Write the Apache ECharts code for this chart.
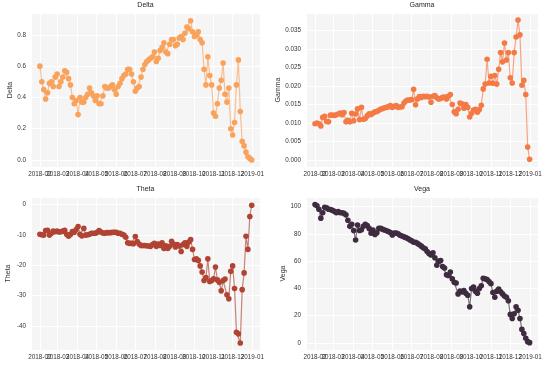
<!DOCTYPE html>
<html><head><meta charset="utf-8">
<script src="https://cdn.jsdelivr.net/npm/echarts@6/dist/echarts.min.js"></script>
<style>html,body{margin:0;padding:0;background:#fff}#c{width:550px;height:366px}</style>
</head><body><div id="c"></div><script>
const dates = [
'2018-02-01','2018-02-04','2018-02-07','2018-02-10','2018-02-13','2018-02-16','2018-02-19','2018-02-22','2018-02-25','2018-02-28',
'2018-03-03','2018-03-06','2018-03-09','2018-03-12','2018-03-15','2018-03-18','2018-03-21','2018-03-24','2018-03-27','2018-03-30',
'2018-04-02','2018-04-05','2018-04-08','2018-04-11','2018-04-14','2018-04-17','2018-04-20','2018-04-23','2018-04-26','2018-04-29',
'2018-05-02','2018-05-05','2018-05-08','2018-05-11','2018-05-14','2018-05-17','2018-05-20','2018-05-23','2018-05-26','2018-05-29',
'2018-06-01','2018-06-04','2018-06-07','2018-06-10','2018-06-13','2018-06-16','2018-06-19','2018-06-22','2018-06-25','2018-06-28',
'2018-07-01','2018-07-04','2018-07-07','2018-07-10','2018-07-13','2018-07-16','2018-07-19','2018-07-22','2018-07-25','2018-07-28','2018-07-31',
'2018-08-03','2018-08-06','2018-08-09','2018-08-12','2018-08-15','2018-08-18','2018-08-21','2018-08-24','2018-08-27','2018-08-30',
'2018-09-02','2018-09-05','2018-09-08','2018-09-11','2018-09-14','2018-09-17','2018-09-20','2018-09-23','2018-09-26','2018-09-29',
'2018-10-02','2018-10-05','2018-10-08','2018-10-11','2018-10-14','2018-10-17','2018-10-20','2018-10-23','2018-10-26','2018-10-29',
'2018-11-01','2018-11-04','2018-11-07','2018-11-10','2018-11-13','2018-11-16','2018-11-19','2018-11-22','2018-11-25','2018-11-28',
'2018-12-01','2018-12-04','2018-12-07','2018-12-10','2018-12-13','2018-12-16','2018-12-19','2018-12-22','2018-12-25','2018-12-28','2018-12-31'
];
const delta = [
0.60,0.50,0.45,0.39,0.43,0.49,0.50,0.47,0.53,0.55,
0.47,0.50,0.53,0.57,0.56,0.52,0.48,0.40,0.36,0.38,
0.29,0.40,0.37,0.37,0.40,0.42,0.46,0.43,0.41,0.38,
0.41,0.36,0.36,0.41,0.47,0.46,0.46,0.47,0.48,0.45,
0.42,0.47,0.49,0.52,0.54,0.55,0.58,0.58,0.55,0.50,
0.44,0.46,0.47,0.53,0.58,0.61,0.63,0.64,0.65,0.66,
0.69,0.63,0.65,0.70,0.72,0.75,0.69,0.68,0.74,0.77,
0.77,0.73,0.74,0.78,0.79,0.77,0.81,0.85,0.84,0.89,
0.82,0.79,0.80,0.82,0.77,0.75,0.58,0.48,0.66,0.54,
0.48,0.30,0.28,0.36,0.46,0.51,0.62,0.42,0.37,0.46,
0.20,0.16,0.24,0.48,0.64,0.31,0.12,0.09,0.05,0.02,
0.01,0.00
];
const gamma = [
0.0098,0.0100,0.0098,0.0092,0.0115,0.0118,0.0104,0.0103,0.0121,0.0121,
0.0120,0.0122,0.0124,0.0127,0.0122,0.0128,0.0103,0.0107,0.0103,0.0126,
0.0106,0.0124,0.0138,0.0109,0.0142,0.0110,0.0112,0.0119,0.0125,0.0123,
0.0127,0.0130,0.0131,0.0134,0.0137,0.0139,0.0141,0.0142,0.0144,0.0147,
0.0142,0.0145,0.0147,0.0142,0.0143,0.0144,0.0154,0.0159,0.0162,0.0162,
0.0163,0.0191,0.0149,0.0165,0.0171,0.0169,0.0172,0.0171,0.0172,0.0170,
0.0156,0.0172,0.0174,0.0168,0.0165,0.0166,0.0169,0.0170,0.0165,0.0172,
0.0177,0.0150,0.0130,0.0125,0.0137,0.0154,0.0152,0.0140,0.0150,0.0142,
0.0116,0.0126,0.0135,0.0137,0.0129,0.0136,0.0148,0.0192,0.0205,0.0272,
0.0208,0.0226,0.0207,0.0228,0.0205,0.0245,0.0290,0.0265,0.0316,0.0270,
0.0290,0.0222,0.0208,0.0290,0.0332,0.0378,0.0338,0.0202,0.0215,0.0177,
0.0035,0.0002
];
const theta = [
-9.8,-10.0,-10.1,-8.6,-8.5,-10.1,-9.5,-8.8,-9.0,-8.8,
-9.1,-9.0,-8.8,-8.5,-9.8,-10.5,-9.9,-8.9,-9.2,-8.3,
-7.3,-9.8,-10.4,-7.9,-10.1,-10.0,-9.8,-9.5,-9.5,-9.5,
-9.2,-8.6,-9.1,-9.4,-9.5,-9.3,-9.3,-9.3,-9.2,-9.2,
-9.2,-9.5,-9.5,-9.8,-10.1,-10.8,-12.6,-12.8,-12.8,-12.9,
-10.6,-12.2,-13.0,-13.5,-13.5,-13.5,-13.6,-13.7,-13.8,-13.2,
-12.8,-13.8,-13.0,-13.5,-12.6,-14.5,-13.6,-14.5,-13.8,-12.1,
-13.0,-14.0,-13.2,-13.7,-15.5,-13.2,-12.6,-13.8,-12.4,-11.6,
-14.8,-18.1,-17.9,-18.4,-20.2,-22.2,-25.0,-24.0,-17.9,-25.3,
-25.0,-24.4,-20.6,-24.8,-25.6,-28.4,-25.0,-24.5,-29.7,-31.0,
-22.0,-20.2,-27.6,-42.0,-42.5,-45.5,-28.0,-22.5,-10.5,-14.8,
-4.0,-0.3
];
const vega = [
101.5,100.5,98.0,91.5,95.5,99.5,99.0,98.0,97.8,97.2,
96.5,95.5,96.3,95.5,95.5,95.0,94.0,90.0,85.5,87.0,
82.5,75.5,86.5,82.5,83.0,85.5,87.0,86.0,84.0,80.5,
82.8,79.5,80.8,84.0,84.0,83.3,82.8,82.2,81.7,81.0,
79.2,80.5,80.5,80.0,79.0,78.4,77.8,77.2,76.6,75.6,
75.0,73.8,73.8,73.0,72.0,71.0,69.8,69.0,67.0,65.5,
64.5,66.2,62.5,57.0,60.0,60.5,56.0,55.0,50.0,49.5,
52.0,47.0,44.5,44.0,36.0,38.0,37.5,38.5,36.5,35.0,
26.5,40.0,41.0,38.0,36.5,40.0,42.0,47.5,47.0,46.5,
45.0,43.5,37.0,33.5,38.0,39.5,37.5,36.0,34.5,33.5,
31.0,21.0,18.0,21.5,26.5,24.0,18.0,10.0,7.0,3.5,
1.0,0.3
];

const panels = [
  {name:'Delta', values:delta, color:'#f9a25c', ymin:-0.045, ymax:0.94, split:5, dec:1, grid:{left:31,top:13,width:229,height:154}, gap:17},
  {name:'Gamma', values:gamma, color:'#f47a45', ymin:-0.0019, ymax:0.0397, split:8, dec:3, grid:{left:306,top:13,width:232,height:154}, gap:18},
  {name:'Theta', values:theta, color:'#b04333', ymin:-47.8, ymax:2.4, split:5, dec:0, grid:{left:31,top:197,width:229,height:153}, gap:19},
  {name:'Vega', values:vega, color:'#3e2b3f', ymin:-5.1, ymax:107, split:5, dec:0, grid:{left:306,top:197,width:232,height:153}, gap:15}
];
const FONT = 'Liberation Sans, Arial, sans-serif';
const TXT = '#333333';
function pad(n){return n<10?'0'+n:''+n;}
const option = {
  animation:false,
  backgroundColor:'#ffffff',
  textStyle:{fontFamily:FONT},
  title: panels.map(p=>({
    text:p.name, left:p.grid.left+p.grid.width/2, top:p.grid.top-11, textAlign:'center', padding:0,
    textStyle:{fontSize:7, fontWeight:'normal', color:'#262626', fontFamily:FONT}
  })),
  grid: panels.map(p=>Object.assign({show:true, backgroundColor:'#f5f5f5', borderWidth:0, containLabel:false}, p.grid)),
  xAxis: panels.map((p,i)=>({
    type:'time', gridIndex:i, min:'2018-01-18', max:'2019-01-13', splitNumber:12,
    axisLine:{show:false}, axisTick:{show:false},
    splitLine:{show:true, lineStyle:{color:'#ffffff', width:1}},
    axisLabel:{fontSize:6.3, color:TXT, margin:4, hideOverlap:false, showMinLabel:false, showMaxLabel:false, fontFamily:FONT,
      formatter:function(v){const d=new Date(v);return d.getFullYear()+'-'+pad(d.getMonth()+1);}}
  })),
  yAxis: panels.map((p,i)=>({
    type:'value', gridIndex:i, min:p.ymin, max:p.ymax, splitNumber:p.split,
    name:p.name, nameLocation:'middle', nameGap:p.gap, nameRotate:90,
    nameTextStyle:{fontSize:7, color:TXT, fontFamily:FONT},
    axisLine:{show:false}, axisTick:{show:false},
    splitLine:{show:true, lineStyle:{color:'#ffffff', width:1}},
    axisLabel:{fontSize:6.3, color:TXT, margin:5, showMinLabel:false, showMaxLabel:false, fontFamily:FONT,
      formatter:function(v){return v.toFixed(p.dec);}}
  })),
  series: panels.map((p,i)=>({
    type:'line', xAxisIndex:i, yAxisIndex:i, name:p.name,
    data: dates.map((d,k)=>[d, p.values[k]]),
    symbol:'circle', symbolSize:5.6, showSymbol:true, showAllSymbol:true,
    itemStyle:{color:p.color},
    lineStyle:{color:p.color, width:1.2, opacity:0.65},
    emphasis:{disabled:true}
  }))
};
const chart = echarts.init(document.getElementById('c'), null, {renderer:'canvas'});
chart.setOption(option);
</script></body></html>
